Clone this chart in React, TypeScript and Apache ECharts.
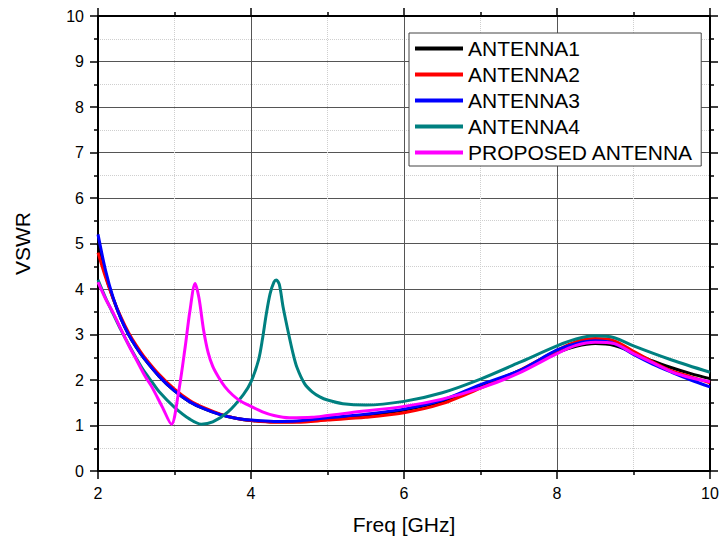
import React, { useEffect, useRef } from 'react';
import * as echarts from 'echarts';

// ---- data ----
const legendNames = ['ANTENNA1', 'ANTENNA2', 'ANTENNA3', 'ANTENNA4', 'PROPOSED ANTENNA'];
const seriesColors = ['#000000', '#ff0000', '#0000ff', '#008080', '#ff00ff'];

const xTicks = [2, 4, 6, 8, 10];
const yTicks = [0, 1, 2, 3, 4, 5, 6, 7, 8, 9, 10];

const ant1X = [2.0, 2.1, 2.2, 2.3, 2.4, 2.5, 2.6, 2.8, 3.0, 3.2, 3.4, 3.6, 3.8, 4.0, 4.3, 4.6, 5.0, 5.5, 6.0, 6.5, 7.0, 7.5, 8.0, 8.25, 8.5, 8.75, 9.0, 9.25, 9.5, 9.75, 10.0];
const ant1Y = [5.0, 4.3, 3.78, 3.35, 3.0, 2.72, 2.48, 2.08, 1.76, 1.52, 1.36, 1.24, 1.16, 1.11, 1.08, 1.09, 1.15, 1.23, 1.34, 1.53, 1.86, 2.2, 2.6, 2.74, 2.8, 2.76, 2.6, 2.42, 2.27, 2.14, 2.03];

const ant2X = [2.0, 2.1, 2.2, 2.3, 2.4, 2.5, 2.6, 2.8, 3.0, 3.2, 3.4, 3.6, 3.8, 4.0, 4.3, 4.6, 5.0, 5.5, 6.0, 6.5, 7.0, 7.5, 8.0, 8.25, 8.5, 8.75, 9.0, 9.25, 9.5, 9.75, 10.0];
const ant2Y = [4.8, 4.25, 3.78, 3.38, 3.04, 2.76, 2.52, 2.12, 1.8, 1.55, 1.38, 1.25, 1.16, 1.11, 1.07, 1.07, 1.12, 1.18, 1.28, 1.48, 1.82, 2.2, 2.65, 2.84, 2.91, 2.86, 2.63, 2.4, 2.2, 2.07, 1.94];

const ant3X = [2.0, 2.1, 2.2, 2.3, 2.4, 2.5, 2.6, 2.8, 3.0, 3.2, 3.4, 3.6, 3.8, 4.0, 4.3, 4.6, 5.0, 5.5, 6.0, 6.5, 7.0, 7.5, 8.0, 8.25, 8.5, 8.75, 9.0, 9.25, 9.5, 9.75, 10.0];
const ant3Y = [5.2, 4.4, 3.8, 3.35, 3.0, 2.72, 2.48, 2.08, 1.76, 1.52, 1.36, 1.24, 1.16, 1.12, 1.09, 1.1, 1.17, 1.25, 1.36, 1.56, 1.9, 2.2, 2.66, 2.8, 2.86, 2.8, 2.56, 2.35, 2.17, 2.0, 1.85];

const ant4X = [2.0, 2.1, 2.2, 2.3, 2.4, 2.5, 2.6, 2.7, 2.8, 3.0, 3.2, 3.35, 3.5, 3.7, 3.9, 4.0, 4.1, 4.15, 4.2, 4.25, 4.3, 4.33, 4.37, 4.42, 4.5, 4.55, 4.6, 4.7, 4.8, 4.9, 5.0, 5.2, 5.5, 6.0, 6.5, 7.0, 7.5, 8.0, 8.25, 8.5, 8.75, 9.0, 9.5, 10.0];
const ant4Y = [4.2, 3.8, 3.45, 3.1, 2.78, 2.48, 2.2, 1.97, 1.74, 1.4, 1.14, 1.03, 1.08, 1.3, 1.68, 1.96, 2.45, 2.9, 3.45, 3.9, 4.15, 4.2, 4.1, 3.6, 2.95, 2.58, 2.28, 1.92, 1.74, 1.63, 1.56, 1.48, 1.45, 1.53, 1.72, 2.02, 2.38, 2.75, 2.9, 2.97, 2.93, 2.75, 2.44, 2.17];

const propX = [2.0, 2.1, 2.2, 2.3, 2.4, 2.5, 2.62, 2.7, 2.84, 2.96, 3.05, 3.14, 3.2, 3.27, 3.32, 3.38, 3.44, 3.5, 3.58, 3.66, 3.76, 3.86, 4.0, 4.15, 4.3, 4.5, 4.8, 5.0, 5.3, 6.0, 6.5, 7.0, 7.5, 8.0, 8.25, 8.5, 8.75, 9.0, 9.25, 9.5, 9.75, 10.0];
const propY = [4.15, 3.78, 3.47, 3.12, 2.77, 2.45, 2.07, 1.86, 1.41, 1.03, 1.7, 2.73, 3.5, 4.12, 3.8, 3.1, 2.6, 2.3, 2.05, 1.85, 1.67, 1.54, 1.42, 1.3, 1.22, 1.17, 1.18, 1.22, 1.28, 1.42, 1.58, 1.82, 2.15, 2.58, 2.76, 2.83, 2.8, 2.58, 2.38, 2.18, 2.05, 1.96];

const allX = [ant1X, ant2X, ant3X, ant4X, propX];
const allY = [ant1Y, ant2Y, ant3Y, ant4Y, propY];

const FONT = "'Liberation Sans', Arial, sans-serif";

export default function App() {
  const ref = useRef<HTMLDivElement>(null);
  useEffect(() => {
    if (!ref.current) return;
    const chart = echarts.init(ref.current, undefined, { renderer: 'svg' });
    const tickStyle = { show: true, inside: false, length: 8, lineStyle: { color: '#000', width: 1.5 } };
    const minorTick = { show: true, splitNumber: 2, length: 4, lineStyle: { color: '#000', width: 1.5 } };
    const axisLine = { show: true, onZero: false, lineStyle: { color: '#000', width: 2 } };
    const splitLine = { show: true, lineStyle: { color: '#555', width: 1 } };
    const minorSplitLine = { show: true, lineStyle: { color: '#cfcfcf', width: 1, type: 'dotted' as const } };

    chart.setOption({
      animation: false,
      backgroundColor: '#fff',
      grid: { left: 98, right: 13, top: 16, bottom: 70, containLabel: false },
      legend: {
        orient: 'vertical',
        left: 409,
        top: 33,
        data: legendNames,
        icon: 'rect',
        itemWidth: 48,
        itemHeight: 4,
        itemGap: 5,
        padding: [5, 8, 3, 6],
        borderColor: '#444',
        borderWidth: 1,
        backgroundColor: '#fff',
        textStyle: { fontFamily: FONT, fontSize: 21, color: '#000', lineHeight: 21 },
        selectedMode: false,
      },
      xAxis: [
        {
          type: 'value', min: xTicks[0], max: xTicks[xTicks.length - 1], interval: 2, position: 'bottom',
          name: 'Freq [GHz]', nameLocation: 'middle', nameGap: 43,
          nameTextStyle: { fontFamily: FONT, fontSize: 21, color: '#000' },
          axisLine, axisTick: tickStyle, minorTick,
          axisLabel: { fontFamily: FONT, fontSize: 16, color: '#000', margin: 14 },
          splitLine, minorSplitLine,
        },
        {
          type: 'value', min: xTicks[0], max: xTicks[xTicks.length - 1], interval: 2, position: 'top',
          axisLine, axisTick: tickStyle, minorTick,
          axisLabel: { show: false }, splitLine: { show: false },
        },
      ],
      yAxis: [
        {
          type: 'value', min: yTicks[0], max: yTicks[yTicks.length - 1], interval: 1, position: 'left',
          name: 'VSWR', nameLocation: 'middle', nameGap: 65, nameRotate: 90,
          nameTextStyle: { fontFamily: FONT, fontSize: 21, color: '#000' },
          axisLine, axisTick: tickStyle, minorTick,
          axisLabel: { fontFamily: FONT, fontSize: 16, color: '#000', margin: 14 },
          splitLine, minorSplitLine,
        },
        {
          type: 'value', min: yTicks[0], max: yTicks[yTicks.length - 1], interval: 1, position: 'right',
          axisLine, axisTick: tickStyle, minorTick,
          axisLabel: { show: false }, splitLine: { show: false },
        },
      ],
      series: legendNames.map((name, i) => ({
        name,
        type: 'line',
        xAxisIndex: 0,
        yAxisIndex: 0,
        data: allX[i].map((x, j) => [x, allY[i][j]]),
        showSymbol: false,
        symbol: 'none',
        smooth: 0.3,
        color: seriesColors[i],
        lineStyle: { color: seriesColors[i], width: 3 },
        z: 10 + i,
      })),
    });
    return () => chart.dispose();
  }, []);
  return <div ref={ref} style={{ position: 'fixed', left: 0, top: 0, width: 723, height: 541 }} />;
}
